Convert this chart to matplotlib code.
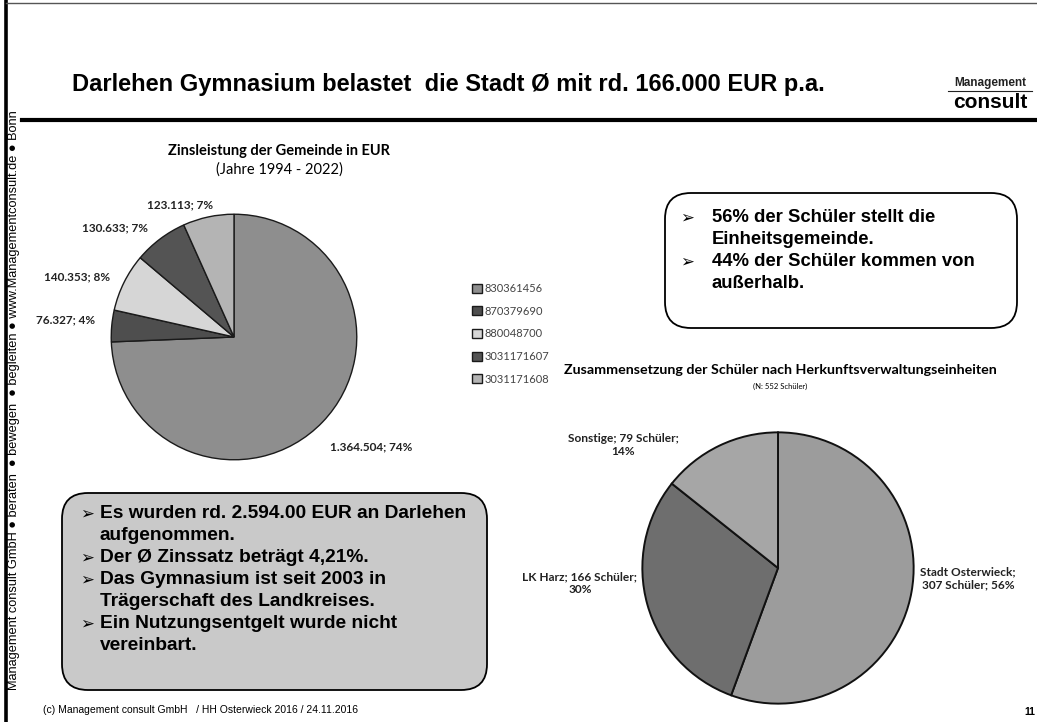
import matplotlib
matplotlib.use("Agg")
import matplotlib.pyplot as plt
from matplotlib.patches import FancyBboxPatch
from matplotlib.lines import Line2D

# ---------------- data ----------------
loan_ids = ["830361456", "870379690", "880048700", "3031171607", "3031171608"]
interest_eur = [1364504, 76327, 140353, 130633, 123113]
loan_colors = ["#8e8e8e", "#4e4e4e", "#d6d6d6", "#545454", "#b4b4b4"]

origin_names = ["Stadt Osterwieck", "LK Harz", "Sonstige"]
pupils = [307, 166, 79]
origin_colors = ["#9c9c9c", "#6e6e6e", "#a6a6a6"]

title_text = "Darlehen Gymnasium belastet  die Stadt Ø mit rd. 166.000 EUR p.a."
pie1_title = "Zinsleistung der Gemeinde in EUR"
pie1_sub = "(Jahre 1994 - 2022)"
pie2_title = "Zusammensetzung der Schüler nach Herkunftsverwaltungseinheiten"
pie2_sub = "(N: 552 Schüler)"
box_right_lines = [("➢", "56% der Schüler stellt die"), ("", "Einheitsgemeinde."),
                   ("➢", "44% der Schüler kommen von"), ("", "außerhalb.")]
box_left_lines = [("➢", "Es wurden rd. 2.594.00 EUR an Darlehen"), ("", "aufgenommen."),
                  ("➢", "Der Ø Zinssatz beträgt 4,21%."),
                  ("➢", "Das Gymnasium ist seit 2003 in"), ("", "Trägerschaft des Landkreises."),
                  ("➢", "Ein Nutzungsentgelt wurde nicht"), ("", "vereinbart.")]
sidebar = "Management consult GmbH ● beraten  ● bewegen  ● begleiten ● www.Managementconsult.de ● Bonn"
footer = "(c) Management consult GmbH   / HH Osterwieck 2016 / 24.11.2016"

W, H = 1037, 722
fig = plt.figure(figsize=(W / 100, H / 100), dpi=100)
fig.patch.set_facecolor("white")

def fx(x):
    return x / W

def fy(y):
    return 1 - y / H

ARIAL = ["Liberation Sans", "DejaVu Sans"]
CAL = ["Lato", "DejaVu Sans"]

# frame lines
fig.add_artist(Line2D([fx(6), fx(6)], [0, 1], color="black", lw=2.6))
fig.add_artist(Line2D([fx(6), 1], [fy(3), fy(3)], color="#555555", lw=1.0))
fig.add_artist(Line2D([fx(22), 1], [fy(120), fy(120)], color="black", lw=3.0))

# sidebar
fig.text(fx(14), fy(400), sidebar, rotation=90, ha="center", va="center",
         fontsize=9.2, family=ARIAL, color="black")

# title + logo
fig.text(fx(72), fy(84), title_text, ha="left", va="center", fontsize=17,
         fontweight="bold", family=ARIAL)
fig.text(fx(990), fy(83), "Management", ha="center", va="center", fontsize=8.5,
         fontweight="bold", family=ARIAL, color="#222222")
fig.add_artist(Line2D([fx(948), fx(1032)], [fy(91), fy(91)], color="#222222", lw=0.8))
fig.text(fx(990), fy(103), "consult", ha="center", va="center", fontsize=15,
         fontweight="bold", family=ARIAL)

# ---------------- pie 1 ----------------
c1x, c1y, r1 = 234, 337, 124
ax1 = fig.add_axes([fx(c1x - r1), fy(c1y + r1), (2 * r1) / W, (2 * r1) / H])
wedges1, _ = ax1.pie(interest_eur, startangle=90, counterclock=False, colors=loan_colors,
                     wedgeprops=dict(edgecolor="#1a1a1a", linewidth=1.0))
ax1.set_xlim(-1.01, 1.01)
ax1.set_ylim(-1.01, 1.01)
ax1.set_aspect("auto")
ax1.axis("off")

fig.text(fx(279), fy(151), pie1_title, ha="center", va="center", fontsize=10.5,
         fontweight="bold", family=CAL)
fig.text(fx(279), fy(170), pie1_sub, ha="center", va="center", fontsize=10.5, family=CAL)

total1 = sum(interest_eur)
def fmt_eur(v):
    return f"{v:,}".replace(",", ".")
label_pos1 = [(371, 447), (66, 320), (77, 277), (115, 228), (180, 205)]
for v, (lx, ly) in zip(interest_eur, label_pos1):
    fig.text(fx(lx), fy(ly), f"{fmt_eur(v)}; {round(100 * v / total1)}%", ha="center",
             va="center", fontsize=8.5, fontweight="bold", family=CAL, color="#222222")

fig.legend(wedges1, loan_ids, loc="upper left", bbox_to_anchor=(fx(472), fy(283)),
           frameon=False, handlelength=0.9, handleheight=0.9,
           handletextpad=0.25, labelspacing=1.05, borderpad=0, borderaxespad=0,
           prop={"family": CAL, "size": 8}, labelcolor="#444444")

# ---------------- pie 2 ----------------
c2x, c2y, r2 = 778, 568, 137
ax2 = fig.add_axes([fx(c2x - r2), fy(c2y + r2), (2 * r2) / W, (2 * r2) / H])
wedges2, _ = ax2.pie(pupils, startangle=90, counterclock=False, colors=origin_colors,
                     wedgeprops=dict(edgecolor="#111111", linewidth=1.4))
ax2.set_xlim(-1.01, 1.01)
ax2.set_ylim(-1.01, 1.01)
ax2.set_aspect("auto")
ax2.axis("off")

fig.text(fx(780), fy(370), pie2_title, ha="center", va="center", fontsize=10.3,
         fontweight="bold", family=CAL)
fig.text(fx(780), fy(386), pie2_sub, ha="center", va="center", fontsize=5.5, family=CAL)

total2 = sum(pupils)
label_txt2 = [f"Stadt Osterwieck;\n{pupils[0]} Schüler; {round(100 * pupils[0] / total2)}%",
              f"{origin_names[1]}; {pupils[1]} Schüler;\n{round(100 * pupils[1] / total2)}%",
              f"{origin_names[2]}; {pupils[2]} Schüler;\n{round(100 * pupils[2] / total2)}%"]
label_pos2 = [(968, 578), (580, 583), (623, 445)]
for t, (lx, ly) in zip(label_txt2, label_pos2):
    fig.text(fx(lx), fy(ly), t, ha="center", va="center", fontsize=8.6, fontweight="bold",
             family=CAL, color="#222222", linespacing=1.2)

# ---------------- text boxes ----------------
def rbox(x0, y0, x1, y1, fc):
    p = FancyBboxPatch((fx(x0), fy(y1)), fx(x1) - fx(x0), fy(y0) - fy(y1),
                       boxstyle="round,pad=0,rounding_size=0.025",
                       transform=fig.transFigure, facecolor=fc, edgecolor="black", lw=1.3,
                       mutation_aspect=W / H)
    fig.add_artist(p)

rbox(665, 193, 1017, 328, "white")
ys = [218, 240, 262, 284]
for (b, t), y in zip(box_right_lines, ys):
    if b:
        fig.text(fx(680), fy(y), b, ha="left", va="center", fontsize=12, family=["DejaVu Sans"])
    fig.text(fx(712), fy(y), t, ha="left", va="center", fontsize=13.3, fontweight="bold", family=ARIAL)

rbox(62, 493, 487, 690, "#c9c9c9")
ys = [514, 536, 558, 580, 602, 624, 646]
for (b, t), y in zip(box_left_lines, ys):
    if b:
        fig.text(fx(80), fy(y), b, ha="left", va="center", fontsize=12, family=["DejaVu Sans"])
    fig.text(fx(100), fy(y), t, ha="left", va="center", fontsize=13.8, fontweight="bold", family=ARIAL)

# footer
fig.text(fx(43), fy(710), footer, ha="left", va="center", fontsize=7.5, family=ARIAL)
fig.text(fx(1030), fy(712), "11", ha="center", va="center", fontsize=7.5, fontweight="bold", family=ARIAL)

fig.savefig("out.png", dpi=100, facecolor="white")
